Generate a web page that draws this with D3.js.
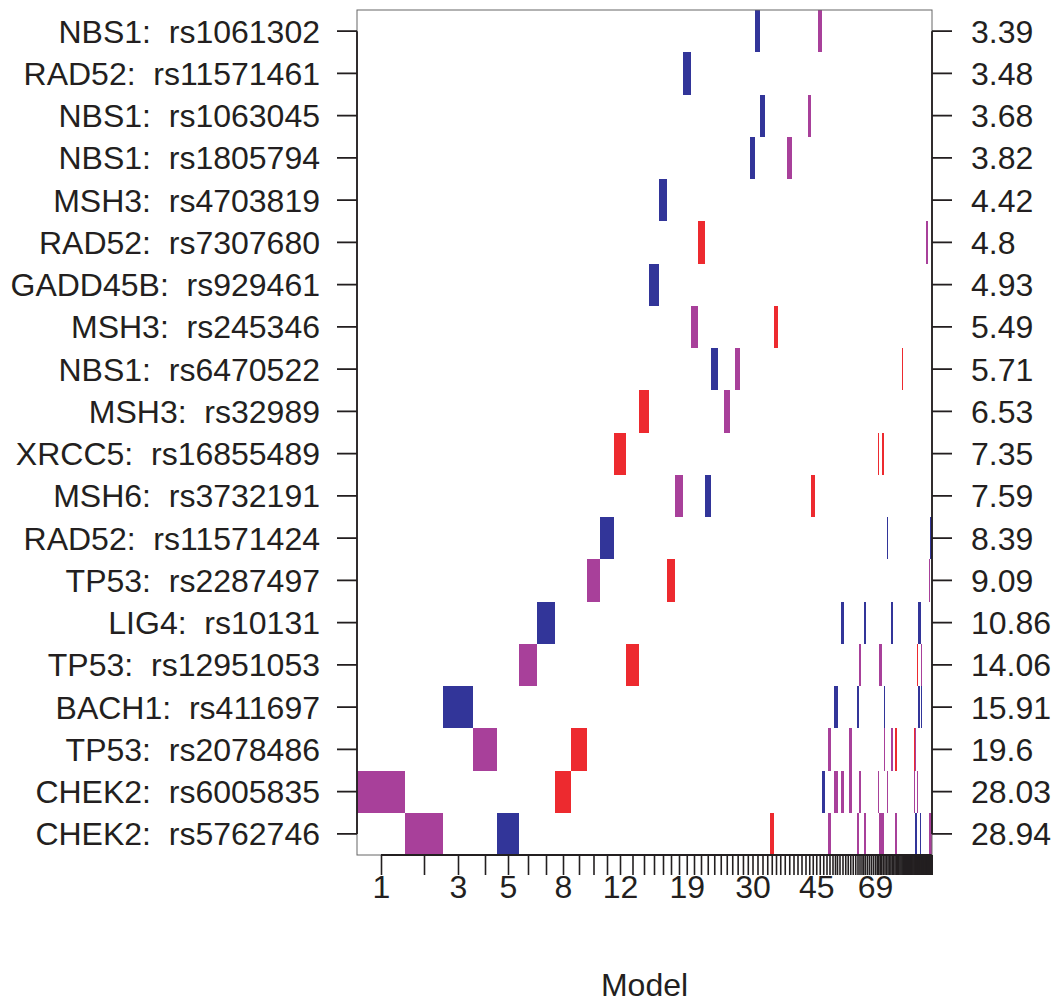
<!DOCTYPE html>
<html>
<head>
<meta charset="utf-8">
<script src="https://cdn.jsdelivr.net/npm/d3@7"></script>
<style>
  body { margin: 0; background: #fff; }
  text { font-family: "Liberation Sans", Arial, Helvetica, sans-serif; fill: #231f20; }
</style>
</head>
<body>
<div id="chart"></div>
<script>
// SNPs, top to bottom
var rowLabels = ["NBS1:  rs1061302", "RAD52:  rs11571461", "NBS1:  rs1063045", "NBS1:  rs1805794",
  "MSH3:  rs4703819", "RAD52:  rs7307680", "GADD45B:  rs929461", "MSH3:  rs245346",
  "NBS1:  rs6470522", "MSH3:  rs32989", "XRCC5:  rs16855489", "MSH6:  rs3732191",
  "RAD52:  rs11571424", "TP53:  rs2287497", "LIG4:  rs10131", "TP53:  rs12951053",
  "BACH1:  rs411697", "TP53:  rs2078486", "CHEK2:  rs6005835", "CHEK2:  rs5762746"];
var rowValues = ["3.39", "3.48", "3.68", "3.82", "4.42", "4.8", "4.93", "5.49", "5.71", "6.53",
  "7.35", "7.59", "8.39", "9.09", "10.86", "14.06", "15.91", "19.6", "28.03", "28.94"];

// relative posterior probability of each model (1..124)
var postProb = [48, 38, 30, 24, 22, 18, 18, 16, 16, 13,
  14, 12, 13, 10, 10, 8, 8, 8, 7.5, 7,
  7, 6.5, 6.5, 6.5, 5.5, 5.5, 5.3, 5.3, 4.4, 5,
  5, 5, 4.5, 4.5, 4, 4.5, 4.5, 4.5, 4, 4,
  4, 4, 3.5, 3.5, 3.5, 3.5, 3.5, 3, 3, 3,
  2, 2, 3, 3, 2.5, 2.5, 2.5, 2.5, 2.5, 2,
  2, 2, 1.5, 2, 2, 2, 2, 2, 2, 1.5,
  1.5, 1.5, 1.5, 1.7, 1.6, 1.5, 1.5, 1.4, 1.4, 1.4,
  1.4, 1.3, 1.3, 1.2, 1.2, 1.1, 1.1, 1.1, 1, 1,
  1, 1, 1, 1, 1, 1, 1, 0.9, 0.9, 0.9,
  0.9, 0.9, 0.9, 0.9, 0.9, 0.8, 0.8, 0.8, 0.8, 0.8,
  0.8, 0.8, 0.8, 0.7, 0.7, 0.7, 0.7, 0.7, 0.7, 0.6,
  0.6, 0.6, 0.6, 0.6];

var modelLabels = [1, 3, 5, 8, 12, 19, 30, 45, 69];

// [row (1 = top), model, colour]
var cells = [
  [1, 31, "b"], [1, 46, "m"],
  [2, 19, "b"],
  [3, 32, "b"], [3, 43, "m"],
  [4, 30, "b"], [4, 38, "m"],
  [5, 16, "b"],
  [6, 21, "r"], [6, 116, "m"], [6, 117, "m"],
  [7, 15, "b"],
  [8, 20, "m"], [8, 35, "r"],
  [9, 23, "b"], [9, 27, "m"], [9, 89, "r"],
  [10, 14, "r"], [10, 25, "m"],
  [11, 12, "r"], [11, 71, "r"], [11, 74, "r"],
  [12, 18, "m"], [12, 22, "b"], [12, 44, "r"],
  [13, 11, "b"], [13, 77, "b"], [13, 122, "b"], [13, 123, "b"], [13, 124, "b"],
  [14, 10, "m"], [14, 17, "r"], [14, 120, "m"],
  [15, 7, "b"], [15, 54, "b"], [15, 64, "b"], [15, 80, "b"], [15, 106, "b"], [15, 107, "b"], [15, 108, "b"],
  [16, 6, "m"], [16, 13, "r"], [16, 61, "m"], [16, 72, "m"], [16, 73, "m"], [16, 104, "r"], [16, 109, "m"], [16, 110, "m"],
  [17, 3, "b"], [17, 51, "b"], [17, 52, "b"], [17, 60, "b"], [17, 75, "b"], [17, 106, "b"], [17, 107, "b"], [17, 109, "b"], [17, 110, "b"],
  [18, 4, "m"], [18, 9, "r"], [18, 49, "m"], [18, 57, "m"], [18, 75, "m"], [18, 80, "m"], [18, 83, "r"], [18, 101, "r"], [18, 102, "m"],
  [19, 1, "m"], [19, 8, "r"], [19, 47, "b"], [19, 51, "m"], [19, 52, "m"], [19, 54, "m"], [19, 57, "m"], [19, 61, "m"], [19, 71, "m"], [19, 77, "m"], [19, 101, "m"], [19, 104, "m"],
  [20, 2, "m"], [20, 5, "b"], [20, 34, "r"], [20, 49, "m"], [20, 60, "m"], [20, 64, "m"], [20, 72, "m"], [20, 73, "m"], [20, 74, "m"], [20, 83, "m"], [20, 102, "b"], [20, 103, "b"], [20, 108, "b"], [20, 120, "m"], [20, 121, "m"], [20, 122, "m"], [20, 123, "m"], [20, 124, "m"]
];

var colors = { r: "#ed2a2f", b: "#323599", m: "#a8409a" };
var ink = "#231f20";

var margin = { top: 10, right: 122, bottom: 148, left: 357 },
    width = 575,
    height = 845;

var cum = [0];
postProb.forEach(function(p, i) { cum.push(cum[i] + p); });
var centers = postProb.map(function(p, i) { return (cum[i] + cum[i + 1]) / 2; });

var x = d3.scaleLinear().domain([0, cum[cum.length - 1]]).range([0, width]);
var y = d3.scaleBand().domain(d3.range(1, 21)).range([0, height]);

var svg = d3.select("#chart")
    .append("svg")
    .attr("width", width + margin.left + margin.right)
    .attr("height", height + margin.top + margin.bottom)
    .append("g")
    .attr("transform", "translate(" + margin.left + "," + margin.top + ")");

// model cells
svg.selectAll("rect.cell")
    .data(cells)
    .enter().append("rect")
    .attr("class", "cell")
    .attr("x", function(d) { return x(cum[d[1] - 1]); })
    .attr("width", function(d) { return x(cum[d[1]]) - x(cum[d[1] - 1]); })
    .attr("y", function(d) { return y(d[0]); })
    .attr("height", y.bandwidth())
    .attr("fill", function(d) { return colors[d[2]]; })
    .attr("shape-rendering", "crispEdges");

// thin frame
svg.append("rect")
    .attr("width", width)
    .attr("height", height)
    .attr("fill", "none")
    .attr("stroke", "#666")
    .attr("stroke-width", 1);

var yc = function(i) { return y(i) + y.bandwidth() / 2; };

// left axis
var yLeft = svg.append("g")
    .call(d3.axisLeft(y).tickSize(20).tickPadding(17)
      .tickFormat(function(d) { return rowLabels[d - 1]; }));
yLeft.select(".domain").remove();
yLeft.append("line")
    .attr("y1", yc(1)).attr("y2", yc(20))
    .attr("stroke", ink).attr("stroke-width", 1.8);
yLeft.selectAll(".tick line").attr("stroke", ink).attr("stroke-width", 1.8);
yLeft.selectAll(".tick text")
    .style("font-size", "32px")
    .style("white-space", "pre")
    .attr("dy", "0.36em");

// right axis
var yRight = svg.append("g")
    .attr("transform", "translate(" + width + ",0)")
    .call(d3.axisRight(y).tickSize(20).tickPadding(19)
      .tickFormat(function(d) { return rowValues[d - 1]; }));
yRight.select(".domain").remove();
yRight.append("line")
    .attr("y1", yc(1)).attr("y2", yc(20))
    .attr("stroke", ink).attr("stroke-width", 1.8);
yRight.selectAll(".tick line").attr("stroke", ink).attr("stroke-width", 1.8);
yRight.selectAll(".tick text")
    .style("font-size", "32px")
    .attr("dy", "0.36em");

// bottom axis: one tick per model, centred on it
var xAxis = svg.append("g")
    .attr("transform", "translate(0," + height + ")")
    .call(d3.axisBottom(x).tickValues(centers).tickSize(20).tickPadding(0)
      .tickFormat(function(d, i) { return modelLabels.indexOf(i + 1) >= 0 ? String(i + 1) : ""; }));
xAxis.select(".domain").remove();
xAxis.append("line")
    .attr("x1", x(centers[0])).attr("x2", x(centers[centers.length - 1]))
    .attr("stroke", ink).attr("stroke-width", 1.8);
xAxis.selectAll(".tick line").attr("stroke", ink).attr("stroke-width", 1.6);
xAxis.selectAll(".tick text").style("font-size", "32px");

svg.append("text")
    .attr("x", width / 2)
    .attr("y", height + 141)
    .attr("text-anchor", "middle")
    .style("font-size", "32px")
    .text("Model");
</script>
</body>
</html>
